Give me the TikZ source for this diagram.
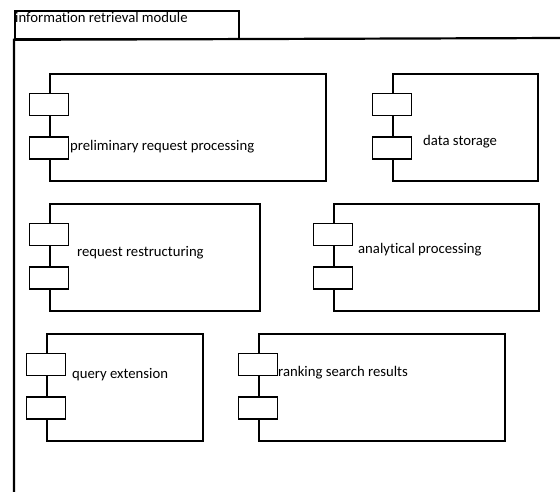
\documentclass[tikz,border=0pt]{standalone}
\usepackage{fontspec}
\setmainfont{Carlito}[Ligatures={NoCommon}]
\usetikzlibrary{positioning}

\tikzset{
  comp/.style={draw, rectangle, line width=1.7pt, inner sep=0pt, minimum height=107pt, anchor=north west},
  port/.style={draw, rectangle, fill=white, line width=1.7pt, inner sep=0pt, minimum width=39pt, minimum height=22pt},
  lbl/.style={anchor=west, inner sep=0pt, font=\fontsize{14.7}{16}\selectfont},
}

\begin{document}
\begin{tikzpicture}[x=1pt,y=-1pt]
\useasboundingbox (0,0) rectangle (560,491);

% package frame
\node[draw, line width=1.8pt, inner sep=0pt, minimum width=224pt, minimum height=28pt, anchor=north west] (tab) at (14,10) {};
\node[lbl, anchor=north west] (pkgname) at ([shift={(1pt,-2pt)}]tab.north west) {information retrieval module};
\coordinate (frameright)  at (561,38);
\coordinate (framebottom) at (14,492);
\draw[line width=2.2pt] (frameright) -- (tab.south west) -- (framebottom);

% components
\node[comp, minimum width=276pt] (prep)  at (49,73)  {};
\node[comp, minimum width=145pt] (store) at (392,73) {};
\node[comp, minimum width=210pt] (restr) at (49,203) {};
\node[comp, minimum width=205pt] (anal)  at (333,203) {};
\node[comp, minimum width=156pt] (qext)  at (46,333) {};
\node[comp, minimum width=246pt] (rank)  at (258,333) {};

\foreach \c in {prep,store,restr,anal,qext,rank} {
  \node[port] (\c-p1) at ([yshift=-31.5pt]\c.north west) {};
  \node[port] (\c-p2) at ([yshift=-75pt]\c.north west) {};
}

\node[lbl] (prep-l)  at (70,147)  {preliminary request processing};
\node[lbl] (store-l) at (423,142) {data storage};
\node[lbl] (restr-l) at (77,253)  {request restructuring};
\node[lbl] (anal-l)  at (358,250) {analytical processing};
\node[lbl] (qext-l)  at (72,375)  {query extension};
\node[lbl] (rank-l)  at (278,373) {ranking search results};

\end{tikzpicture}
\end{document}
